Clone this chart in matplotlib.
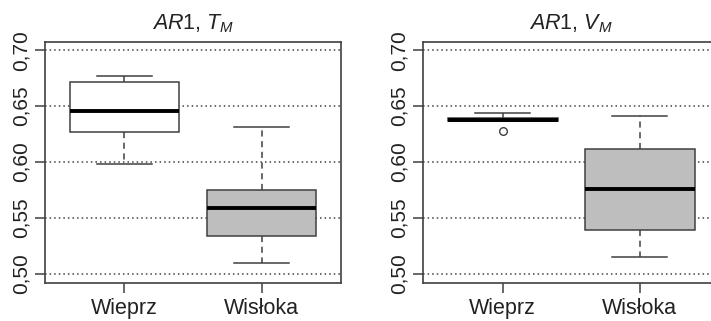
import matplotlib
matplotlib.use("Agg")
import matplotlib.pyplot as plt

plt.rcParams['font.family'] = ['Liberation Sans', 'DejaVu Sans']
plt.rcParams['mathtext.fontset'] = 'custom'
plt.rcParams['mathtext.rm'] = 'Liberation Sans'
plt.rcParams['mathtext.it'] = 'Liberation Sans:italic'

rivers = ['Wieprz', 'Wisłoka']
titles = [r'$\mathit{AR}$1, $T_M$', r'$\mathit{AR}$1, $V_M$']
fills = ['white', '#bebebe']

# five-number summaries: (whislo, q1, med, q3, whishi)
tm_wieprz = (0.598, 0.627, 0.646, 0.672, 0.677)
tm_wisloka = (0.509, 0.534, 0.559, 0.575, 0.631)
vm_wieprz = (0.637, 0.637, 0.638, 0.639, 0.644)
vm_wisloka = (0.5145, 0.539, 0.576, 0.612, 0.641)
vm_wieprz_out = [0.6275]
tm_fliers = [[], []]
vm_fliers = [vm_wieprz_out, []]

yticks = [0.50, 0.55, 0.60, 0.65, 0.70]
ytick_labels = ['0,50', '0,55', '0,60', '0,65', '0,70']

panels = [
    (titles[0], [tm_wieprz, tm_wisloka], tm_fliers),
    (titles[1], [vm_wieprz, vm_wisloka], vm_fliers),
]

W, H = 711, 321
fig = plt.figure(figsize=(W / 100, H / 100), dpi=100)
edge = '#404040'
lefts = [45, 423.3]

for k, (title, summaries, fliers) in enumerate(panels):
    ax = fig.add_axes([lefts[k] / W, 38 / H, 296 / W, 241 / H])
    stats = []
    for name, s, fl in zip(rivers, summaries, fliers):
        stats.append(dict(label=name, whislo=s[0], q1=s[1], med=s[2],
                          q3=s[3], whishi=s[4], fliers=fl))
    for y in yticks:
        ax.axhline(y, color='#444444', lw=1.1, ls=(0, (1, 2)), zorder=0)
    bp = ax.bxp(stats, positions=[1, 2], widths=0.8, patch_artist=True,
                showfliers=True,
                boxprops=dict(edgecolor=edge, linewidth=1.1),
                medianprops=dict(color='black', linewidth=2.8, solid_capstyle='butt'),
                whiskerprops=dict(color=edge, linewidth=1.1, ls=(0, (4, 3))),
                capprops=dict(color=edge, linewidth=1.1),
                capwidths=0.4,
                flierprops=dict(marker='o', markersize=5.5, markerfacecolor='none',
                                markeredgecolor=edge, markeredgewidth=1.0))
    for patch, c in zip(bp['boxes'], fills):
        patch.set_facecolor(c)
    ax.set_xlim(0.42, 2.58)
    ax.set_ylim(0.4915, 0.7075)
    ax.set_yticks(yticks)
    ax.set_yticklabels(ytick_labels, rotation=90, va='center', fontsize=15)
    ax.set_xticks([1, 2])
    ax.set_xticklabels(rivers, fontsize=15.5)
    ax.tick_params(axis='both', direction='out', length=7.5, width=1.1, color=edge,
                   labelcolor='#222222')
    ax.tick_params(axis='y', pad=3)
    ax.tick_params(axis='x', pad=3)
    for sp in ax.spines.values():
        sp.set_color(edge)
        sp.set_linewidth(1.2)
    ax.set_title(title, fontsize=15.5, pad=9, color='#222222')

fig.savefig('out.png', dpi=100)
